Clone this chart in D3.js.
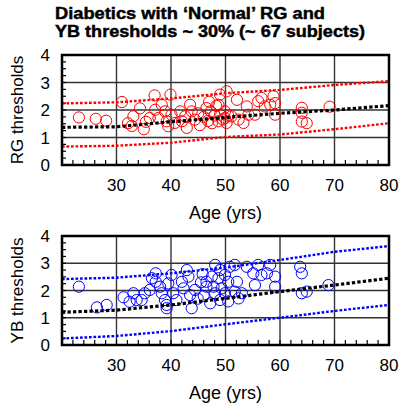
<!DOCTYPE html>
<html>
<head>
<meta charset="utf-8">
<script src="https://cdn.jsdelivr.net/npm/d3@7"></script>
<style>
  html, body { margin: 0; padding: 0; background: #fff; }
  svg { display: block; font-family: "Liberation Sans", Arial, sans-serif; }
</style>
</head>
<body>
<svg id="chart" width="399" height="412"></svg>
<script>
// Title
const titleLines = ["Diabetics with \u2018Normal\u2019 RG and", "YB thresholds ~ 30% (~ 67 subjects)"];
const titleWidths = [270, 310];

// Axis ticks
const xTicks = [30, 40, 50, 60, 70, 80];
const yTicks = [0, 1, 2, 3, 4];

// Regression fit and limits, sampled by age
const fitAges = [20, 30, 40, 50, 60, 70, 80];
const rgFit   = [1.37, 1.39, 1.57, 1.73, 1.88, 2.00, 2.16];
const rgUpper = [2.24, 2.28, 2.42, 2.61, 2.73, 2.91, 3.05];
const rgLower = [0.67, 0.70, 0.81, 1.02, 1.11, 1.30, 1.52];
const ybFit   = [1.20, 1.28, 1.47, 1.71, 1.96, 2.20, 2.45];
const ybUpper = [2.42, 2.47, 2.63, 2.84, 3.12, 3.42, 3.63];
const ybLower = [0.24, 0.33, 0.51, 0.76, 1.00, 1.25, 1.47];

// Subjects: [age, threshold]
const rgSubjects = [
  [23.1,1.73],[26.2,1.68],[28.1,1.61],[31.0,2.29],[32.1,1.52],[32.8,1.42],[33.1,1.77],
  [34.3,2.06],[35.0,1.30],[35.4,1.57],[36.1,1.71],[37.0,2.53],[37.1,2.01],[37.7,1.71],
  [38.3,2.19],[38.9,1.95],[39.2,1.59],[39.5,1.41],[39.9,2.56],[40.1,1.83],[40.7,1.53],
  [41.7,1.95],[42.0,1.59],[42.6,1.77],[42.9,1.35],[43.5,2.19],[43.8,1.95],[44.4,1.65],
  [45.0,1.88],[45.3,1.45],[46.0,1.75],[46.5,2.07],[46.8,1.60],[47.0,2.30],[47.3,1.95],
  [47.5,1.52],[48.0,1.80],[48.3,2.15],[48.7,1.59],[48.7,2.19],[49.0,2.56],[49.0,1.83],
  [49.5,1.65],[49.9,1.95],[49.9,1.71],[50.2,2.68],[50.2,1.53],[50.5,1.80],[51.1,1.77],
  [52.1,2.37],[52.4,1.65],[53.3,1.53],[53.9,2.13],[54.2,1.83],[55.4,1.83],[56.0,2.32],
  [56.6,2.44],[57.2,2.13],[58.2,2.19],[58.8,2.50],[59.1,2.25],[59.1,1.83],[64.0,2.08],
  [64.0,1.90],[64.0,1.58],[64.9,1.52],[69.1,2.12]
];
const ybSubjects = [
  [23.1,2.14],[26.4,1.38],[28.2,1.47],[31.3,1.75],[32.4,1.59],[33.1,1.90],[33.7,1.65],
  [34.6,1.65],[35.2,1.90],[36.1,2.02],[36.5,2.45],[37.2,2.63],[37.2,2.32],[38.0,2.14],
  [38.3,1.90],[38.9,1.65],[39.2,1.47],[39.2,1.35],[39.5,2.26],[40.1,2.57],[40.4,1.90],
  [41.0,1.65],[42.0,2.32],[42.3,2.08],[42.9,2.75],[43.2,2.51],[43.5,1.83],[43.8,1.35],
  [44.4,2.02],[44.9,1.70],[45.5,2.30],[46.0,1.80],[45.8,2.60],[46.5,2.32],[46.5,2.14],
  [47.2,1.53],[47.5,2.51],[47.8,2.14],[48.1,2.94],[48.1,1.90],[48.7,2.45],[49.0,2.75],
  [49.0,1.65],[49.3,2.08],[49.9,2.57],[49.9,1.90],[50.5,2.32],[50.5,1.60],[50.8,2.87],
  [51.7,2.94],[51.7,1.96],[52.1,2.32],[52.4,1.71],[53.0,1.90],[53.9,2.87],[55.1,2.63],
  [55.4,2.20],[56.0,2.94],[56.6,2.57],[57.6,2.63],[58.2,2.94],[59.1,2.51],[59.1,2.14],
  [63.7,2.87],[64.0,2.63],[64.0,1.90],[64.9,1.96],[68.9,2.20]
];

const svg = d3.select("#chart");

// Title block
svg.append("g")
  .selectAll("text")
  .data(titleLines)
  .join("text")
  .attr("x", 55)
  .attr("y", (d, i) => 19 + i * 18)
  .attr("font-size", 16)
  .attr("font-weight", "bold")
  .attr("textLength", (d, i) => titleWidths[i])
  .attr("lengthAdjust", "spacingAndGlyphs")
  .attr("fill", "#000")
  .attr("stroke", "#000")
  .attr("stroke-width", 0.45)
  .text(d => d);

const plotLeft = 62, plotRight = 389;
const x = d3.scaleLinear().domain([20, 80]).range([plotLeft, plotRight]);

const panels = [
  { top: 55, bottom: 165, label: "RG thresholds", color: "#ff0000",
    subjects: rgSubjects, fit: rgFit, upper: rgUpper, lower: rgLower },
  { top: 236, bottom: 345, label: "YB thresholds", color: "#0000ff",
    subjects: ybSubjects, fit: ybFit, upper: ybUpper, lower: ybLower }
];

panels.forEach(p => {
  const y = d3.scaleLinear().domain([0, 4]).range([p.bottom, p.top]);
  const g = svg.append("g");

  // grid lines
  g.append("g")
    .selectAll("line")
    .data(xTicks.filter(t => t < 80))
    .join("line")
    .attr("x1", d => x(d)).attr("x2", d => x(d))
    .attr("y1", p.top).attr("y2", p.bottom)
    .attr("stroke", "#333").attr("stroke-width", 1.4);
  g.append("g")
    .selectAll("line")
    .data(yTicks.filter(t => t > 0 && t < 4))
    .join("line")
    .attr("x1", plotLeft).attr("x2", plotRight)
    .attr("y1", d => y(d)).attr("y2", d => y(d))
    .attr("stroke", "#333").attr("stroke-width", 1.4);

  // minor ticks (inside)
  const xMinor = d3.range(22, 80, 2);
  g.append("g")
    .selectAll("line")
    .data(xMinor)
    .join("line")
    .attr("x1", d => x(d)).attr("x2", d => x(d))
    .attr("y1", p.bottom).attr("y2", p.bottom - 5)
    .attr("stroke", "#000").attr("stroke-width", 1.2);
  const yMinor = d3.range(0.25, 4, 0.25);
  g.append("g")
    .selectAll("line")
    .data(yMinor)
    .join("line")
    .attr("x1", plotLeft).attr("x2", plotLeft + 4)
    .attr("y1", d => y(d)).attr("y2", d => y(d))
    .attr("stroke", "#000").attr("stroke-width", 1.2);

  // subjects
  g.append("g")
    .selectAll("circle")
    .data(p.subjects)
    .join("circle")
    .attr("cx", d => x(d[0]))
    .attr("cy", d => y(d[1]))
    .attr("r", 5.6)
    .attr("fill", "none")
    .attr("stroke", p.color)
    .attr("stroke-width", 1);

  const line = d3.line()
    .x((d, i) => x(fitAges[i]))
    .y(d => y(d));

  // limits
  [p.upper, p.lower].forEach(arr => {
    g.append("path")
      .datum(arr)
      .attr("d", line)
      .attr("fill", "none")
      .attr("stroke", p.color)
      .attr("stroke-width", 2.4)
      .attr("stroke-dasharray", "2.7,1.8");
  });
  // fit
  g.append("path")
    .datum(p.fit)
    .attr("d", line)
    .attr("fill", "none")
    .attr("stroke", "#000")
    .attr("stroke-width", 3.2)
    .attr("stroke-dasharray", "3.3,2.2");

  // frame
  g.append("rect")
    .attr("x", plotLeft).attr("y", p.top)
    .attr("width", plotRight - plotLeft).attr("height", p.bottom - p.top)
    .attr("fill", "none").attr("stroke", "#000").attr("stroke-width", 2.5);

  // tick labels
  g.append("g")
    .selectAll("text")
    .data(yTicks)
    .join("text")
    .attr("x", plotLeft - 12)
    .attr("y", d => y(d))
    .attr("dy", "0.36em")
    .attr("text-anchor", "end")
    .attr("font-size", 17)
    .text(d => d);
  g.append("g")
    .selectAll("text")
    .data(xTicks)
    .join("text")
    .attr("x", d => x(d))
    .attr("y", p.bottom + 26)
    .attr("text-anchor", "middle")
    .attr("font-size", 17)
    .text(d => d);

  // axis titles
  g.append("text")
    .attr("transform", `translate(23,${(p.top + p.bottom) / 2}) rotate(-90)`)
    .attr("text-anchor", "middle")
    .attr("font-size", 17)
    .text(p.label);
  g.append("text")
    .attr("x", (plotLeft + plotRight) / 2)
    .attr("y", p.bottom + 54)
    .attr("text-anchor", "middle")
    .attr("font-size", 18)
    .text("Age (yrs)");
});
</script>
</body>
</html>
